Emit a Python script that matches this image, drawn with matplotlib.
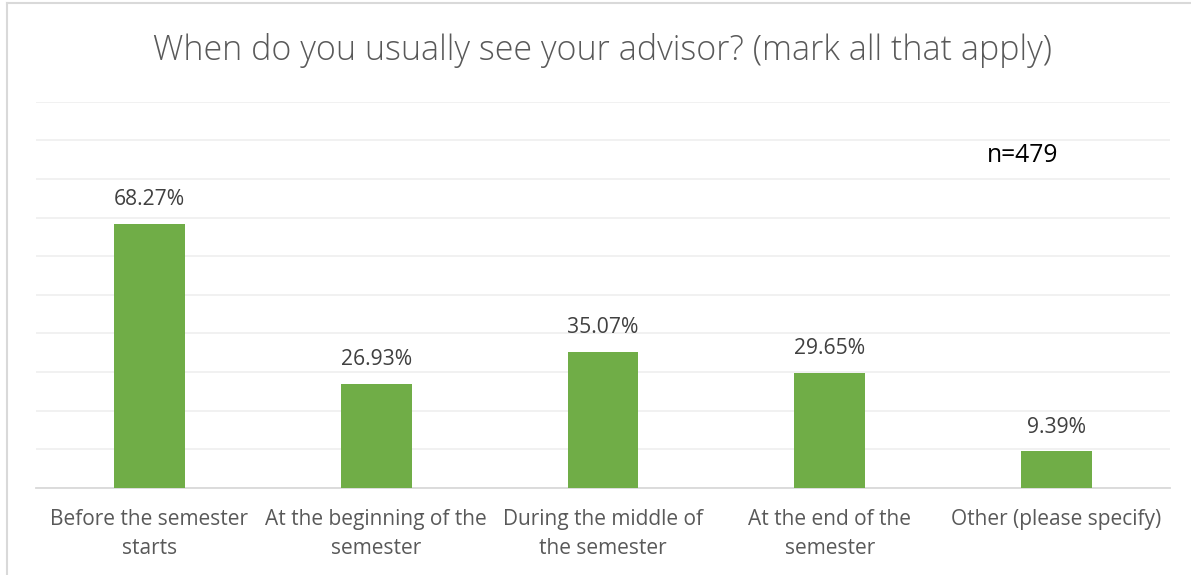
import matplotlib as mpl
mpl.use('Agg')
import matplotlib.pyplot as plt
from matplotlib.lines import Line2D
import numpy as np

categories = ['Before the semester\nstarts', 'At the beginning of the\nsemester',
              'During the middle of\nthe semester', 'At the end of the\nsemester',
              'Other (please specify)']
percents = [68.27, 26.93, 35.07, 29.65, 9.39]
title = 'When do you usually see your advisor? (mark all that apply)'
note = 'n=479'

plt.rcParams['font.family'] = ['Open Sans', 'DejaVu Sans']

fig = plt.figure(figsize=(11.91, 5.75), dpi=100)
ax = fig.add_axes([36 / 1191, 1 - 487.7 / 575, 1134 / 1191, 386 / 575])

x = np.arange(len(categories))
bars = ax.bar(x, percents, width=0.313, color='#70AD47', zorder=3)

for b, v in zip(bars, percents):
    ax.annotate('%.2f%%' % v, (b.get_x() + b.get_width() / 2, v),
                xytext=(0, 10), textcoords='offset points',
                ha='center', va='bottom', fontsize=15.2, color='#404040')

ax.set_xlim(-0.5, len(categories) - 0.5)
ax.set_ylim(0, 100)
ax.set_yticks(np.arange(0, 101, 10))
ax.yaxis.set_tick_params(length=0, labelleft=False)
ax.grid(axis='y', color='#F0F0F0', linewidth=1.3, zorder=0)

ax.set_xticks(x)
ax.set_xticklabels(categories, fontsize=15, color='#595959', linespacing=1.5)
ax.tick_params(axis='x', length=0, pad=15)

for s in ['top', 'right', 'left']:
    ax.spines[s].set_visible(False)
ax.spines['bottom'].set_color('#D9D9D9')
ax.spines['bottom'].set_linewidth(1.3)

ax.text(0.870, 0.861, note, transform=ax.transAxes, ha='center', va='center',
        fontsize=17.7, color='black')

fig.text(0.506, 1 - 50 / 575, title, ha='center', va='center', fontsize=24.5,
         color='#595959', fontweight='light')

# chart frame (left and top edges visible in the crop)
fig.add_artist(Line2D([6.5 / 1191, 6.5 / 1191], [0, 1 - 3 / 575], color='#D9D9D9', lw=1.5))
fig.add_artist(Line2D([6.5 / 1191, 1], [1 - 3 / 575, 1 - 3 / 575], color='#D9D9D9', lw=1.5))

fig.savefig('out.png', dpi=100)
